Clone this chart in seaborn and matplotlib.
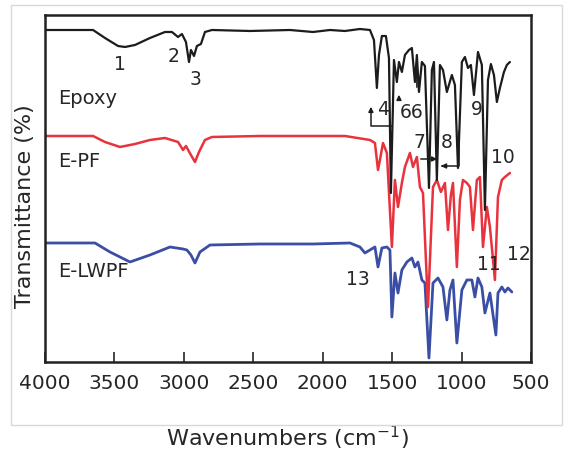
import numpy as np
import pandas as pd
import seaborn as sns
import matplotlib.pyplot as plt

sns.set_style('white')
plt.rcParams['font.family'] = ['DejaVu Sans']

# wavenumber (cm-1) and transmittance (arbitrary units, curves offset)
epoxy_wn = [4000, 3654, 3568, 3474, 3424, 3352, 3244, 3136, 3086, 3042, 3014, 2985, 2963, 2949,
            2927, 2906, 2877, 2848, 2798, 2524, 2236, 2070, 1948, 1840, 1732, 1660, 1631, 1610,
            1595, 1574, 1545, 1523, 1509, 1487, 1466, 1451, 1430, 1408, 1379, 1358, 1336, 1322,
            1307, 1286, 1264, 1235, 1214, 1199, 1178, 1156, 1134, 1106, 1070, 1048, 1026, 998,
            976, 954, 933, 911, 882, 854, 832, 810, 789, 767, 746, 724, 695, 674, 652]
epoxy_t = [332, 332, 324, 316, 315, 317, 324, 330, 330, 325, 328, 320, 300, 312,
           306, 316, 318, 330, 332, 331, 332, 330, 332, 331, 333, 332, 322, 274,
           307, 326, 326, 304, 169, 302, 280, 300, 290, 307, 312, 314, 280, 307,
           270, 300, 296, 174, 292, 300, 182, 297, 292, 270, 287, 277, 194, 300,
           305, 294, 297, 267, 310, 297, 152, 282, 298, 287, 260, 274, 290, 297, 300]

epf_wn = [4000, 3654, 3568, 3460, 3352, 3244, 3136, 3042, 3006, 2985, 2949, 2920, 2891, 2848,
          2798, 2452, 2070, 1840, 1660, 1624, 1602, 1588, 1566, 1538, 1502, 1480, 1458, 1430,
          1408, 1372, 1350, 1322, 1300, 1278, 1242, 1206, 1178, 1149, 1120, 1098, 1077, 1062,
          1034, 1012, 990, 962, 940, 918, 890, 868, 846, 818, 796, 760, 738, 710, 688, 652]
epf_t = [226, 226, 220, 215, 218, 222, 224, 220, 212, 216, 207, 200, 210, 222,
         225, 226, 226, 226, 222, 219, 192, 202, 219, 209, 115, 182, 155, 179,
         195, 209, 195, 205, 175, 169, 55, 175, 182, 170, 179, 132, 167, 179,
         95, 162, 182, 179, 175, 132, 182, 185, 115, 155, 135, 82, 165, 182, 185, 189]

elwpf_wn = [4000, 3640, 3532, 3388, 3244, 3100, 3006, 2978, 2949, 2920, 2884, 2812, 2452, 2070,
            1804, 1732, 1696, 1660, 1624, 1602, 1574, 1538, 1516, 1502, 1480, 1458, 1430, 1394,
            1358, 1336, 1314, 1286, 1264, 1235, 1206, 1170, 1134, 1106, 1084, 1062, 1034, 998,
            962, 926, 904, 882, 854, 832, 796, 753, 738, 710, 688, 666, 638]
elwpf_t = [119, 119, 110, 100, 107, 115, 113, 112, 107, 99, 110, 117, 118, 118,
           119, 115, 109, 112, 115, 95, 114, 115, 112, 45, 89, 69, 92, 100,
           104, 95, 100, 82, 79, 4, 79, 84, 75, 42, 72, 82, 19, 72,
           82, 82, 65, 84, 75, 49, 69, 27, 69, 75, 70, 74, 70]

xticks = [4000, 3500, 3000, 2500, 2000, 1500, 1000, 500]

fig = plt.figure(figsize=(5.66, 4.73), dpi=100)
ax = fig.add_axes([0.0795, 0.2347, 0.8587, 0.7336])

sns.lineplot(x=elwpf_wn, y=elwpf_t, color='#3b4ea6', lw=2.0, sort=False, estimator=None, ax=ax)
sns.lineplot(x=epf_wn, y=epf_t, color='#e8333f', lw=1.8, sort=False, estimator=None, ax=ax)
sns.lineplot(x=epoxy_wn, y=epoxy_t, color='#1c1c1c', lw=1.6, sort=False, estimator=None, ax=ax)

ax.set_xlim(4000, 500)
ax.set_ylim(0, 347)
ax.set_xticks(xticks)
ax.set_xticklabels([str(v) for v in xticks], fontsize=14.5)
ax.set_yticks([])
ax.tick_params(axis='x', direction='in', length=7, width=1.2, pad=9, bottom=True)
for s in ax.spines.values():
    s.set_visible(True)
    s.set_color('#222222')
    s.set_linewidth(1.8)

ax.set_xlabel('Wavenumbers (cm$^{-1}$)', fontsize=16, labelpad=22)
ax.set_ylabel('Transmittance (%)', fontsize=16)
ax.yaxis.set_label_coords(-0.02, 0.45)

# sample names
ax.text(3906, 263, 'Epoxy', fontsize=14, va='center')
ax.text(3906, 200, 'E-PF', fontsize=14, va='center')
ax.text(3906, 90, 'E-LWPF', fontsize=14, va='center')

# band numbers
peaks = {'1': (3460, 297), '2': (3071, 305), '3': (2913, 282), '4': (1566, 252),
         '66': (1358, 249), '7': (1300, 219), '8': (1106, 219), '9': (889, 252),
         '10': (700, 204), '11': (800, 97), '12': (590, 107), '13': (1746, 82)}
for k, (x, y) in peaks.items():
    ax.text(x, y, k, fontsize=13.5, ha='center', va='center')

arr = dict(arrowstyle='-|>', color='#1c1c1c', lw=1.1, mutation_scale=7)
ax.plot([1502, 1653, 1653], [236, 236, 250], color='#1c1c1c', lw=1.1)
ax.annotate('', xy=(1653, 258), xytext=(1653, 248), arrowprops=arr)
ax.annotate('', xy=(1451, 270), xytext=(1451, 259), arrowprops=arr)
ax.annotate('', xy=(1322, 293), xytext=(1322, 272), arrowprops=arr)
ax.annotate('', xy=(1156, 203), xytext=(1314, 203), arrowprops=arr)
ax.plot([1019, 1019, 1140], [231, 196, 196], color='#1c1c1c', lw=1.1)
ax.annotate('', xy=(1149, 196), xytext=(1135, 196), arrowprops=arr)

# chart area frame
fig.patches.append(plt.Rectangle((11 / 566, 1 - 425 / 473), 551 / 566, 420 / 473,
                                 transform=fig.transFigure, fill=False, ec='#d8d8d8', lw=1))

fig.savefig('out.png', dpi=100)
